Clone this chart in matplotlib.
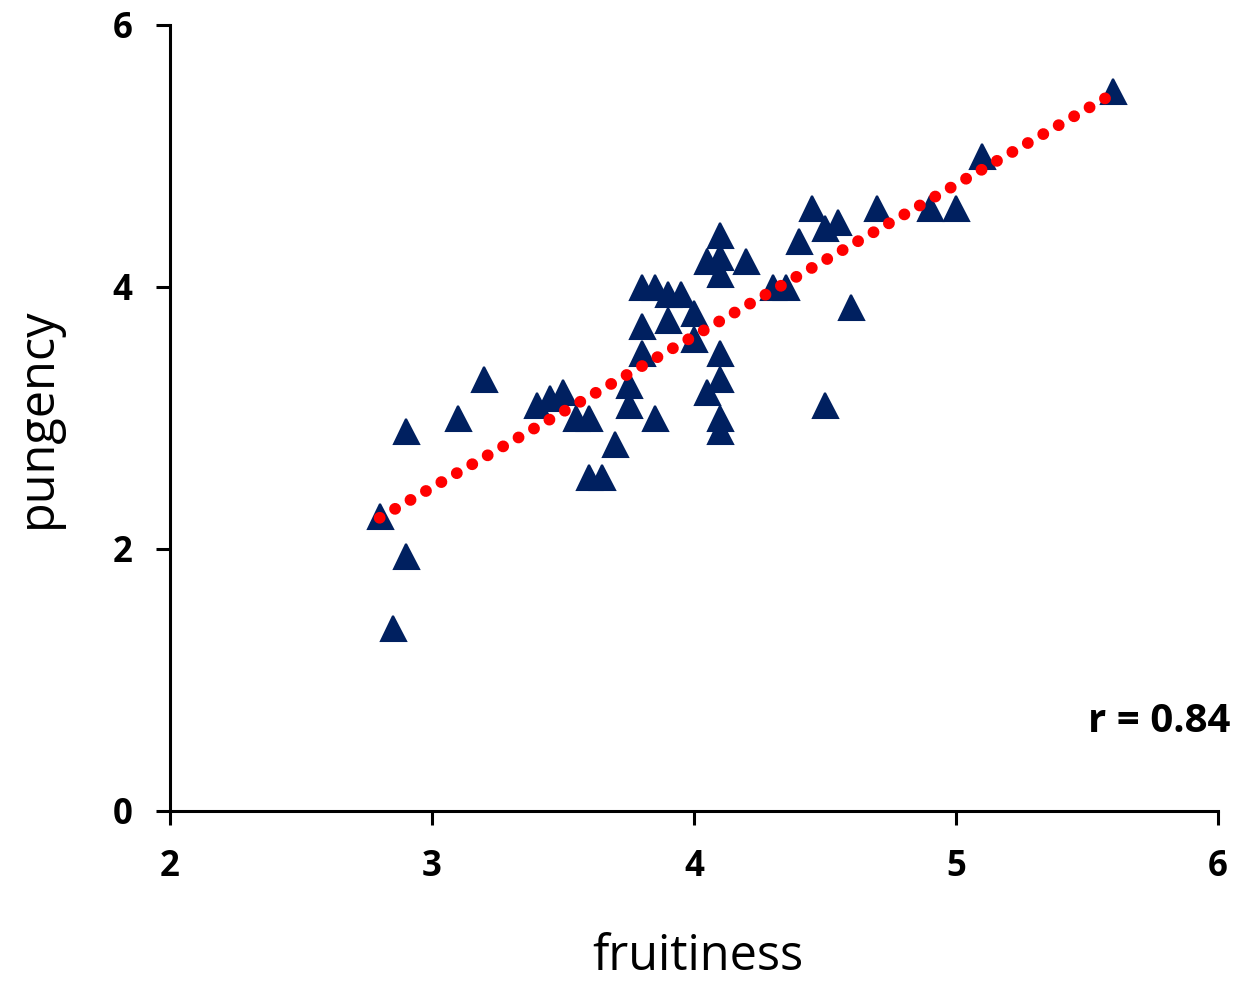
import numpy as np
import matplotlib
matplotlib.use("Agg")
import matplotlib.pyplot as plt

fruitiness = [5.6, 5.1, 4.9, 5.0, 4.7, 4.45, 4.55, 4.5, 4.4, 4.1, 4.1, 4.05, 4.1, 4.2,
              4.3, 4.35, 4.6, 3.8, 3.85, 3.9, 3.95, 4.0, 3.9, 3.8, 4.0, 3.8, 4.1, 4.1,
              4.05, 3.75, 3.75, 3.85, 4.1, 4.1, 4.5, 3.7, 3.55, 3.6, 3.5, 3.45, 3.4,
              3.2, 3.1, 2.9, 3.6, 3.65, 2.8, 2.9, 2.85]
pungency = [5.5, 5.0, 4.6, 4.6, 4.6, 4.6, 4.5, 4.45, 4.35, 4.4, 4.23, 4.2, 4.1, 4.2,
            4.0, 4.0, 3.85, 4.0, 4.0, 3.95, 3.95, 3.8, 3.75, 3.7, 3.6, 3.5, 3.5, 3.3,
            3.2, 3.25, 3.1, 3.0, 3.0, 2.9, 3.1, 2.8, 3.0, 3.0, 3.2, 3.15, 3.1,
            3.3, 3.0, 2.9, 2.55, 2.55, 2.25, 1.95, 1.4]
x_ticks = [2, 3, 4, 5, 6]
y_ticks = [0, 2, 4, 6]
r_label = "r = 0.84"

plt.rcParams['font.family'] = ['Open Sans', 'DejaVu Sans']

fig = plt.figure(figsize=(12.45, 9.83), dpi=100)
ax = fig.add_axes([170/1245, 1 - 811/983, (1218-170)/1245, (811-25)/983])

x = np.array(fruitiness)
y = np.array(pungency)
slope, intercept = np.polyfit(x, y, 1)
xs = np.array([x.min(), x.max()])
ax.plot(xs, slope * xs + intercept, color='#ff0000', linewidth=8.5,
        linestyle=(0, (0.01, 1.5)), dash_capstyle='round', zorder=3)
ax.plot(x, y, linestyle='none', marker='^', markersize=18, color='#002060',
        markeredgecolor='#002060', markeredgewidth=1.5, zorder=2)

ax.set_xlim(2, 6)
ax.set_ylim(0, 6)
ax.set_xticks(x_ticks)
ax.set_yticks(y_ticks)
ax.set_xticklabels([str(t) for t in x_ticks], fontweight='bold', fontsize=25)
ax.set_yticklabels([str(t) for t in y_ticks], fontweight='bold', fontsize=25)
for s in ['top', 'right']:
    ax.spines[s].set_visible(False)
for s in ['left', 'bottom']:
    ax.spines[s].set_linewidth(2.2)
ax.tick_params(axis='both', direction='out', length=10, width=2.2)
ax.tick_params(axis='x', pad=17)
ax.tick_params(axis='y', pad=17)

fig.text(698/1245, 1 - 957/983, 'fruitiness', fontsize=35, ha='center', va='center')
fig.text(38/1245, 1 - 418/983, 'pungency', fontsize=35, ha='center', va='center', rotation=90)
fig.text(1230/1245, 1 - 722/983, r_label, fontsize=29, fontweight='bold', ha='right', va='center')

fig.savefig('out.png', dpi=100)
